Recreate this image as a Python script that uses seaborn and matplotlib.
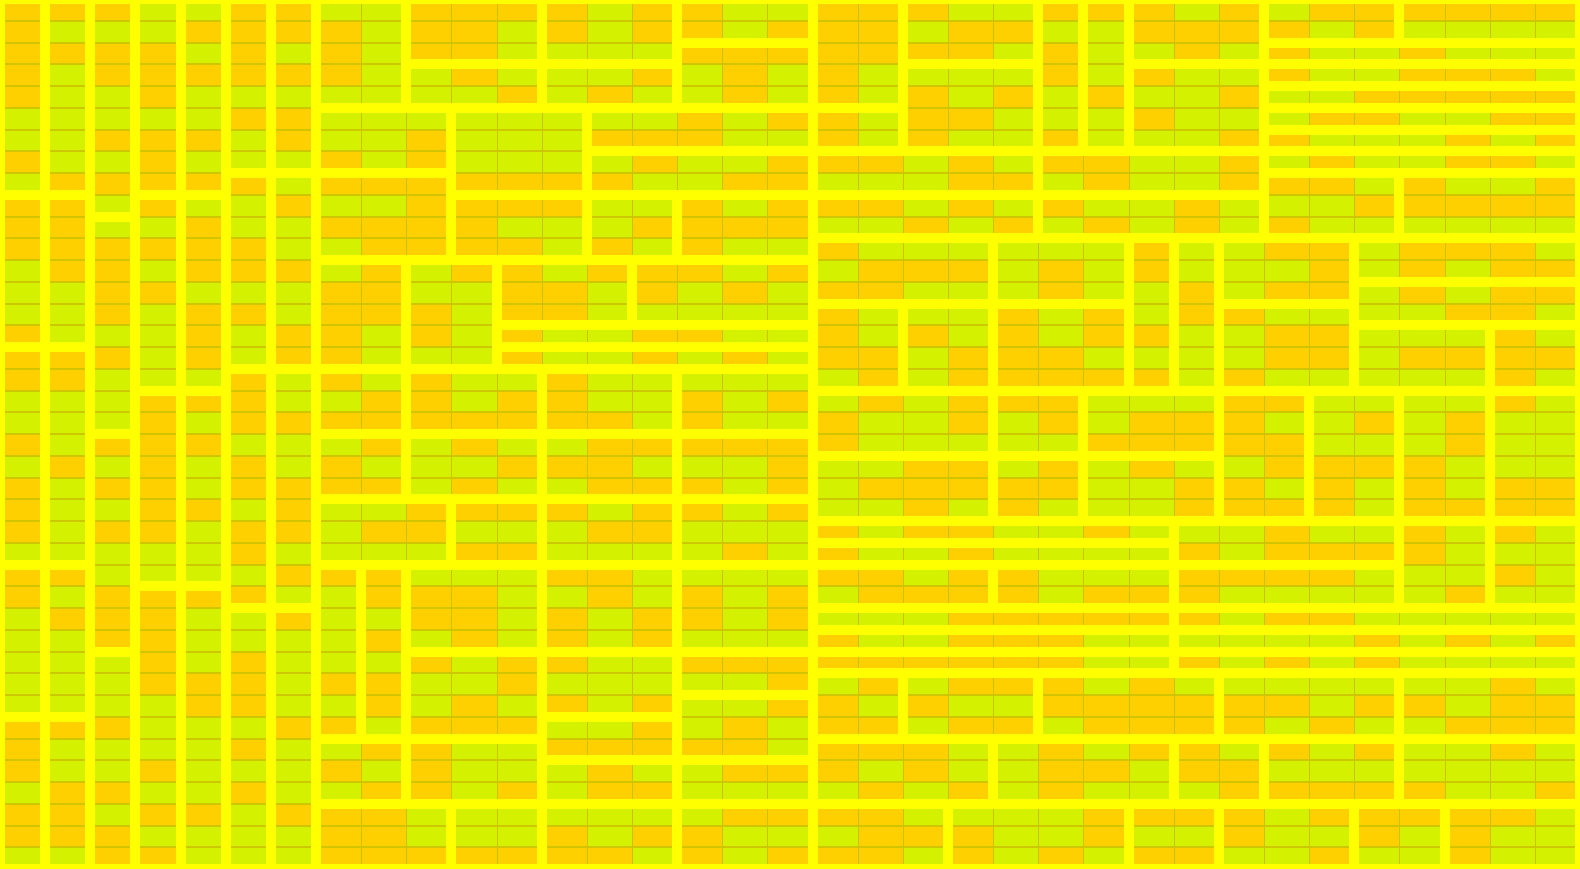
import numpy as np
import matplotlib
matplotlib.use("Agg")
import matplotlib.pyplot as plt
from matplotlib.colors import ListedColormap
from matplotlib.patches import Rectangle
import seaborn as sns

# Cell categories, row by row (O = orange group, L = lime group)
cell_rows = [
    "OOOLLOOLLOOOOLOOLLOOOLLOOOLOLOOOOOO",
    "OLLLOOOOLOOLOLOOLOOOLOOLLOOOOLOLLLL",
    "OOOOLOLOLOOLLLLOOOOOOOLOLLOLOLLOLLL",
    "OLOOOOOOLLOLLLOLOLOLLLLOLOLLOLLOOOL",
    "OLLOLLLLLLLOLOLLOLOLOLOLOLLOLLOOOOO",
    "LLLLLOOLLLLLLLLOLOOLOOLLLOLLLOOLLOO",
    "LLOOOLOLLOLLLOOOLLOLOLLOLLLOOLLLOLO",
    "OLLOLLLOLOLLLLOLLOOOLOLOOLLOLOLLOOL",
    "LOOOOOLOOOOOOOLLOOLLLOOLOLLOOOLOLLO",
    "OOLOLLOLLOOOOLLOLOOOLOLOLLOLLLOOOOO",
    "OOLLOLLOOOOLLLOOOOLLOLOLOLOLOLLLLLL",
    "OOOOOOLLOOOOLOLOLLOLLLLLLOLLOOLOOOL",
    "LOOLOOOLOLOOLOOOLOLOOOLOLOLLLOLOLOO",
    "LLOOLLLOOLLOOLOLOLOOLLLOLLOLOOLOLOO",
    "LLOLOOLOOOLOOLLLLLOLLLOLOLOOLLLLOOL",
    "OLLLOLOOLOLOLLOOLLOLOLOLOOLLOOLLLOL",
    "OOOLOLOOLLLOLLOLOLOOLOOOLLLLOOLOOOO",
    "OOLLLOLOLOLLOLLLLLLOLOOOOOLOLLLLLOL",
    "LLLOOOLLOOLOOLLOLOLOLOOOLLLOOLLLLOL",
    "LLLOLOOOOOOOOOLOLLOLLOLOLOOOLLOLOLL",
    "OLOOOLLLOLOLLOOOOOOLLLLLOOOOOLLLOLL",
    "LOLOLOLOLLLOOOLLLOLLOOLOLOLLOOOOLLL",
    "OLOOLOOOOLOLLOOOLOLOOOOOLLOOLOLOLOO",
    "OLLOOLOLLOOOOLOOLOLLOLOLLLOOOOLOOOO",
    "OLOOLOOLOOLLLOOLLLOLOOLLOLLLOLLOLOL",
    "LLLLLOLLLLOOLLLLOLOLLOLLLLOLOOOOLLL",
    "OOLLLLOOOLLLOOLLLLOOLOOLLLOOOOLLLOL",
    "OLOOOOLLOOOLLOLOLOLOOOOLOOOLLLLLOLL",
    "LOOOLLOLLOOLOLOOLOLLLOOOOOOLOOLLLLL",
    "LLOOLLLLOLOLOLOLLLOLLOOOLLLLLLOLOLO",
    "LLLOLOLLLOLOOLLOOOOOOOOOLLOLOLOLLLL",
    "LLLOOOLOOLLOLLLLLOLOLOOOLOLLLLLLLOL",
    "LLLLOOLLOLOLOLOLLOOLOLLOOOOOOLOOLOO",
    "OOOLLLOOLOOOLLOLOLOOLOOLOOOOLOLLOOO",
    "OLLLLOLLOOLLOOOOOLOOOLLOLOOLOLOLLOL",
    "OLLOLLLOLOLLLOLLOOOLOLLOOLOOLLLLLLL",
    "LOOLLOLLOOLOLOOLLLLOLOLOLLLOOOOOLLO",
    "OOLOOLOOOLLLLLLLOOOOLLLLOOOOLOOOOOL",
    "OOOLLLLOOLLLOLOOLLLOOOLLOLLOLLOLOLL",
    "LLOOLLLOOOOOOOLOLOOOLOLOLOOLLOLLOLL",
]

# Blocks of the partition: (first column, first row, end column, end row)
blocks = [
    (0, 0, 1, 9), (0, 9, 1, 16), (0, 16, 1, 26), (0, 26, 1, 33), (0, 33, 1, 40),
    (1, 0, 2, 9), (1, 9, 2, 16), (1, 16, 2, 26), (1, 26, 2, 33), (1, 33, 2, 40),
    (2, 0, 3, 10), (2, 10, 3, 20), (2, 20, 3, 30), (2, 30, 3, 40),
    (3, 0, 4, 9), (3, 9, 4, 18), (3, 18, 4, 27), (3, 27, 4, 40),
    (4, 0, 5, 9), (4, 9, 5, 18), (4, 18, 5, 27), (4, 27, 5, 40),
    (5, 0, 6, 8), (5, 8, 6, 17), (5, 17, 6, 28), (5, 28, 6, 40),
    (6, 0, 7, 8), (6, 8, 7, 17), (6, 17, 7, 28), (6, 28, 7, 40),
    (7, 0, 9, 5), (9, 0, 12, 3), (9, 3, 12, 5), (12, 0, 15, 3), (12, 3, 15, 5),
    (15, 0, 18, 2), (15, 2, 18, 5),
    (7, 5, 10, 8), (10, 5, 13, 9), (13, 5, 18, 7), (13, 7, 18, 9),
    (7, 8, 10, 12), (10, 9, 13, 12), (13, 9, 15, 12), (15, 9, 18, 12),
    (7, 12, 9, 17), (9, 12, 11, 17), (11, 12, 14, 15), (14, 12, 18, 15),
    (11, 15, 18, 16), (11, 16, 18, 17),
    (7, 17, 9, 20), (9, 17, 12, 20), (12, 17, 15, 20), (15, 17, 18, 20),
    (7, 20, 9, 23), (9, 20, 12, 23), (12, 20, 15, 23), (15, 20, 18, 23),
    (7, 23, 10, 26), (10, 23, 12, 26), (12, 23, 15, 26), (15, 23, 18, 26),
    (7, 26, 8, 34), (8, 26, 9, 34), (9, 26, 12, 30), (12, 26, 15, 30), (15, 26, 18, 30),
    (9, 30, 12, 34), (12, 30, 15, 33), (12, 33, 15, 35), (12, 35, 15, 37),
    (15, 30, 18, 32), (15, 32, 18, 35), (15, 35, 18, 37),
    (7, 34, 9, 37), (9, 34, 12, 37),
    (7, 37, 10, 40), (10, 37, 12, 40), (12, 37, 15, 40), (15, 37, 18, 40),
    (18, 0, 20, 5), (20, 0, 23, 3), (20, 3, 23, 7), (23, 0, 24, 7), (24, 0, 25, 7),
    (25, 0, 28, 3), (25, 3, 28, 7),
    (28, 0, 31, 2), (31, 0, 35, 2), (28, 2, 35, 3), (28, 3, 35, 4), (28, 4, 35, 5),
    (28, 5, 35, 6), (28, 6, 35, 7), (28, 7, 35, 8), (28, 8, 31, 11), (31, 8, 35, 11),
    (18, 5, 20, 7), (18, 7, 23, 9), (23, 7, 28, 9), (18, 9, 23, 11), (23, 9, 28, 11),
    (18, 11, 22, 14), (22, 11, 25, 14), (25, 11, 26, 18), (26, 11, 27, 18),
    (27, 11, 30, 14), (30, 11, 35, 13), (30, 13, 35, 15),
    (18, 14, 20, 18), (20, 14, 22, 18), (22, 14, 25, 18), (27, 14, 30, 18),
    (30, 15, 33, 18), (33, 15, 35, 18),
    (18, 18, 22, 21), (22, 18, 24, 21), (24, 18, 27, 21), (27, 18, 29, 24),
    (29, 18, 31, 24), (31, 18, 33, 24), (33, 18, 35, 24),
    (18, 21, 22, 24), (22, 21, 24, 24), (24, 21, 27, 24),
    (18, 24, 26, 25), (18, 25, 26, 26), (26, 24, 31, 26), (31, 24, 33, 28), (33, 24, 35, 28),
    (18, 26, 22, 28), (22, 26, 26, 28), (26, 26, 31, 28),
    (18, 28, 26, 29), (26, 28, 35, 29), (18, 29, 26, 30), (26, 29, 35, 30),
    (18, 30, 26, 31), (26, 30, 35, 31),
    (18, 31, 20, 34), (20, 31, 23, 34), (23, 31, 27, 34), (27, 31, 31, 34), (31, 31, 35, 34),
    (18, 34, 22, 37), (22, 34, 26, 37), (26, 34, 28, 37), (28, 34, 31, 37), (31, 34, 35, 37),
    (18, 37, 21, 40), (21, 37, 25, 40), (25, 37, 27, 40), (27, 37, 30, 40),
    (30, 37, 32, 40), (32, 37, 35, 40),
]

LIME = "#D4F200"
ORANGE = "#FFD000"
GUTTER = "#FFFF00"
CELL_LINE = "#CCC200"

matrix = np.array([[1 if ch == "O" else 0 for ch in row] for row in cell_rows])
n_rows, n_cols = matrix.shape

W, H, DPI = 1580, 870, 100
px = 72 / DPI
fig = plt.figure(figsize=(W / DPI, H / DPI), dpi=DPI, facecolor=GUTTER)
ax = fig.add_axes([0, 0, 1, 1])
sns.heatmap(matrix, ax=ax, cmap=ListedColormap([LIME, ORANGE]), vmin=0, vmax=1,
            cbar=False, linewidths=0,
            xticklabels=False, yticklabels=False, square=False)
ax.set_xlim(0, n_cols)
ax.set_ylim(n_rows, 0)
ax.set_axis_off()

# thin separators between cells (horizontal ones slightly heavier)
ax.hlines(np.arange(1, n_rows), 0, n_cols, colors=CELL_LINE, linewidth=1.7 * px, zorder=3)
ax.vlines(np.arange(1, n_cols), 0, n_rows, colors=CELL_LINE, linewidth=1.0 * px, zorder=3)

gutter_lw = 10 * px
for c0, r0, c1, r1 in blocks:
    ax.add_patch(Rectangle((c0, r0), c1 - c0, r1 - r0, fill=False,
                           edgecolor=GUTTER, linewidth=gutter_lw,
                           joinstyle="miter", zorder=5))

fig.savefig("out.png", dpi=DPI, facecolor=GUTTER)
